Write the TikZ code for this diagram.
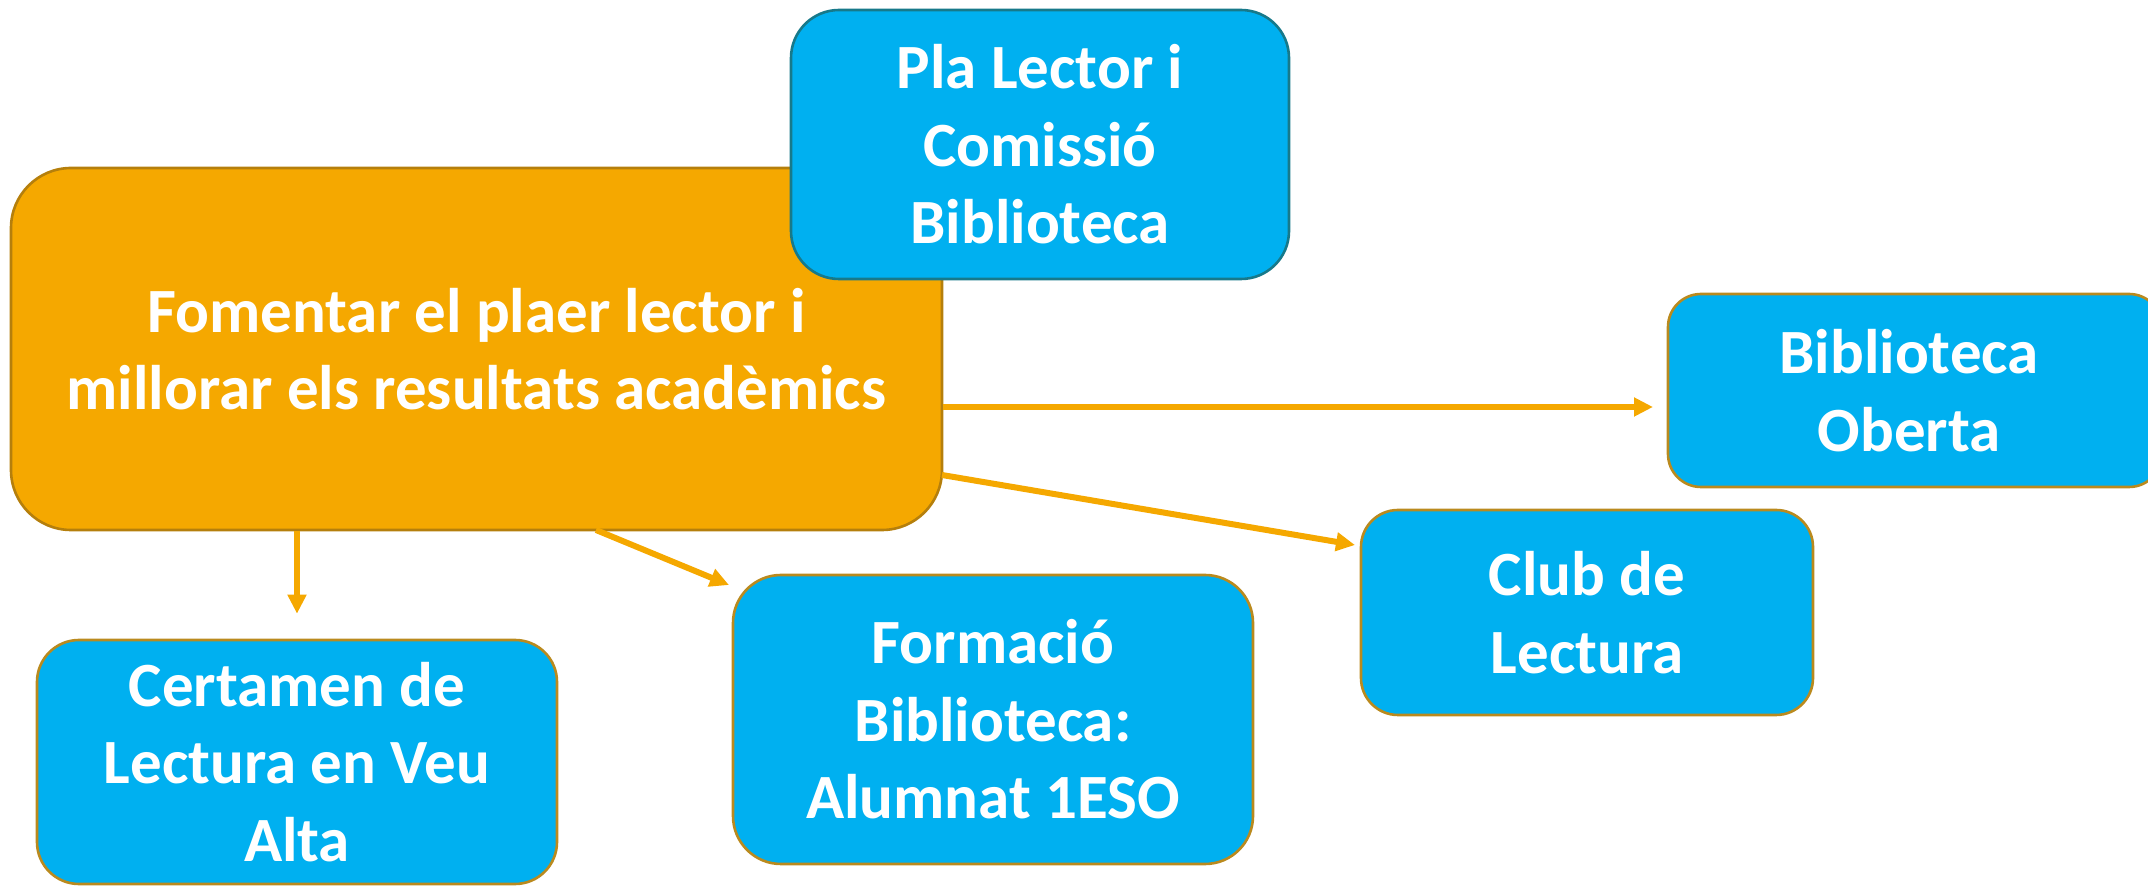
\documentclass[tikz,border=0pt]{standalone}
\usepackage{fontspec}
\setmainfont{Carlito}
\usetikzlibrary{arrows.meta,calc}
\definecolor{orfill}{HTML}{F5A800}
\definecolor{ordraw}{HTML}{B57F0C}
\definecolor{blfill}{HTML}{00B0F0}
\definecolor{tealdraw}{HTML}{17798A}
\definecolor{brdraw}{HTML}{BA8A1E}
\begin{document}
\begin{tikzpicture}[x=0.5pt,y=-0.5pt,
  box/.style={draw, line width=1.3pt, align=center, text=white, inner sep=0pt,
    font=\fontsize{31.5}{38.8}\selectfont\bfseries},
  mainbox/.style={box, fill=orfill, draw=ordraw},
  bluebox/.style={box, fill=blfill, draw=brdraw},
  arr/.style={draw=orfill, line width=3pt, -{Triangle[length=9.5pt,width=9pt]}}
]
\useasboundingbox (0,0) rectangle (2148,886);
\node[mainbox, rounded corners=30pt, minimum width=465.5pt, minimum height=181pt]
  (main) at (476.5,349) {Fomentar el plaer lector i\\millorar els resultats acadèmics};
\node[bluebox, draw=tealdraw, rounded corners=24pt, minimum width=249pt, minimum height=134.5pt]
  (pla) at (1040,144.5) {Pla Lector i\\Comissió\\Biblioteca};
\node[bluebox, rounded corners=16.5pt, minimum width=247pt, minimum height=96.5pt]
  (bo) at (1915,390.5) {};
\node[white, font=\fontsize{31.5}{38.8}\selectfont\bfseries, align=center] (botext) at (1909,390.5) {Biblioteca\\Oberta};
\node[bluebox, rounded corners=18.5pt, minimum width=226pt, minimum height=102.5pt]
  (club) at (1587,612.5) {Club de\\Lectura};
\node[bluebox, rounded corners=24pt, minimum width=260pt, minimum height=144.5pt]
  (form) at (993,719.5) {Formació\\Biblioteca:\\Alumnat 1ESO};
\node[bluebox, rounded corners=21pt, minimum width=260pt, minimum height=122pt]
  (cert) at (297,762) {Certamen de\\Lectura en Veu\\Alta};
\coordinate (s2) at (596,530);
\coordinate (t2) at (729,585);
\coordinate (t3) at (1653,407);
\coordinate (s4) at (942,475);
\coordinate (t4) at (1355,545);
\draw[arr, shorten >=12.5pt] (main.south -| cert.north) -- (cert.north);
\draw[arr] (s2) -- (t2);
\draw[arr] (main.east |- t3) -- (t3);
\draw[arr] (s4) -- (t4);
\end{tikzpicture}
\end{document}
